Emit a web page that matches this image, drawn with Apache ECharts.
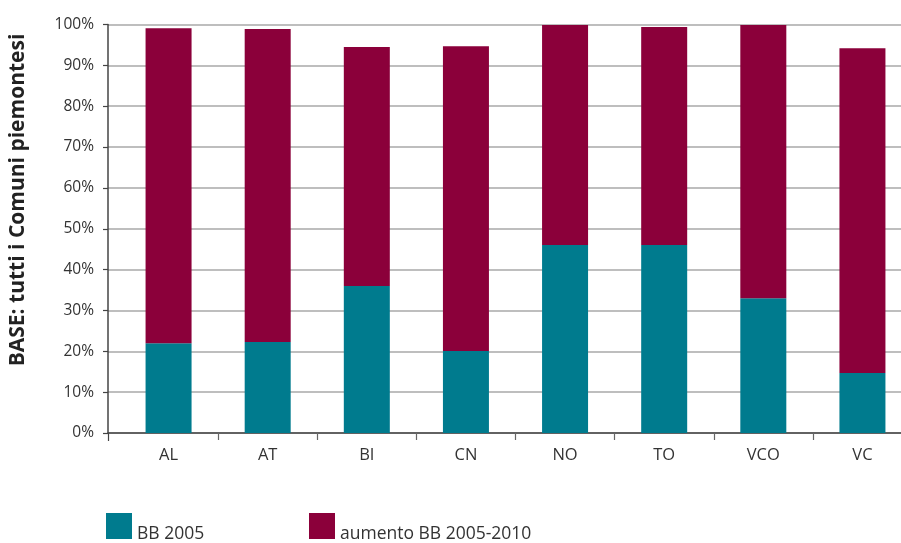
<!DOCTYPE html>
<html>
<head>
<meta charset="utf-8">
<script src="https://cdn.jsdelivr.net/npm/echarts@6/dist/echarts.min.js"></script>
<style>html,body{margin:0;padding:0;background:#fff;overflow:hidden}#c{width:912px;height:543px}</style>
</head>
<body>
<div id="c"></div>
<script>
var categories = ['AL', 'AT', 'BI', 'CN', 'NO', 'TO', 'VCO', 'VC'];
var bb2005 = [22.0, 22.3, 36.0, 20.1, 46.0, 46.0, 33.0, 14.7];
var aumento = [77.1, 76.6, 58.5, 74.6, 53.9, 53.4, 66.9, 79.5];
var yTicks = [0, 10, 20, 30, 40, 50, 60, 70, 80, 90, 100];
var seriesNames = ['BB 2005', 'aumento BB 2005-2010'];
var colors = ['#007b8e', '#8b003a'];

var FONT = 'Open Sans';
var legendText = {
  fontSize: 17.5, color: '#333', fontFamily: FONT,
  rich: {t: {fontSize: 17.5, color: '#333', fontFamily: FONT, padding: [16, 0, 0, 0]}}
};
var chart = echarts.init(document.getElementById('c'), null, {renderer: 'canvas'});
chart.setOption({
  animation: false,
  textStyle: {fontFamily: FONT},
  grid: [
    {left: 108, top: 24.5, right: 0, height: 408.5},
    {left: 119, top: 24.5, right: 0, height: 408.5}
  ],
  xAxis: [
    {
      gridIndex: 0, type: 'category', data: [''], boundaryGap: true,
      axisLine: {show: true, lineStyle: {color: '#444', width: 1.5}},
      axisTick: {show: true, length: 8, lineStyle: {color: '#444', width: 1.2}},
      axisLabel: {show: false}, splitLine: {show: false}
    },
    {
      gridIndex: 1, type: 'category', data: categories, boundaryGap: true,
      axisLine: {show: false},
      axisTick: {show: true, length: 7, lineStyle: {color: '#666', width: 1.2},
        interval: function (idx) { return idx !== 0; }},
      axisLabel: {show: true, margin: 14, fontSize: 16.5, color: '#333', fontFamily: FONT},
      splitLine: {show: false}
    }
  ],
  yAxis: [
    {
      gridIndex: 0, type: 'value', min: yTicks[0], max: yTicks[yTicks.length - 1], interval: 10,
      axisLine: {show: true, lineStyle: {color: '#444', width: 1.5}},
      axisTick: {show: true, length: 5, lineStyle: {color: '#444', width: 1.2}},
      axisLabel: {margin: 14, fontSize: 15.5, color: '#333', fontFamily: FONT,
        formatter: function (v) { return v + '%'; }},
      splitLine: {show: true, lineStyle: {color: '#a8a8a8', width: 1.5}}
    },
    {
      gridIndex: 1, type: 'value', min: 0, max: 100, interval: 10,
      show: false, splitLine: {show: false}
    }
  ],
  legend: [
    {
      data: [seriesNames[0]], left: 106, top: 513, itemWidth: 26, itemHeight: 26,
      icon: 'rect', itemGap: 0, padding: 0, formatter: '{t|{name}}',
      textStyle: legendText
    },
    {
      data: [seriesNames[1]], left: 309, top: 513, itemWidth: 26, itemHeight: 26,
      icon: 'rect', itemGap: 0, padding: 0, formatter: '{t|{name}}',
      textStyle: legendText
    }
  ],
  graphic: [{
    type: 'text', x: 18, y: 200, rotation: Math.PI / 2,
    style: {text: 'BASE: tutti i Comuni piemontesi', fontSize: 21, fontWeight: 'bold',
      fill: '#222', fontFamily: FONT, align: 'center', verticalAlign: 'middle'}
  }],
  series: [
    {
      name: seriesNames[0], type: 'bar', stack: 'tot', xAxisIndex: 1, yAxisIndex: 1,
      data: bb2005, barWidth: 46, itemStyle: {color: colors[0]}
    },
    {
      name: seriesNames[1], type: 'bar', stack: 'tot', xAxisIndex: 1, yAxisIndex: 1,
      data: aumento, barWidth: 46, itemStyle: {color: colors[1]}
    }
  ]
});
</script>
</body>
</html>
